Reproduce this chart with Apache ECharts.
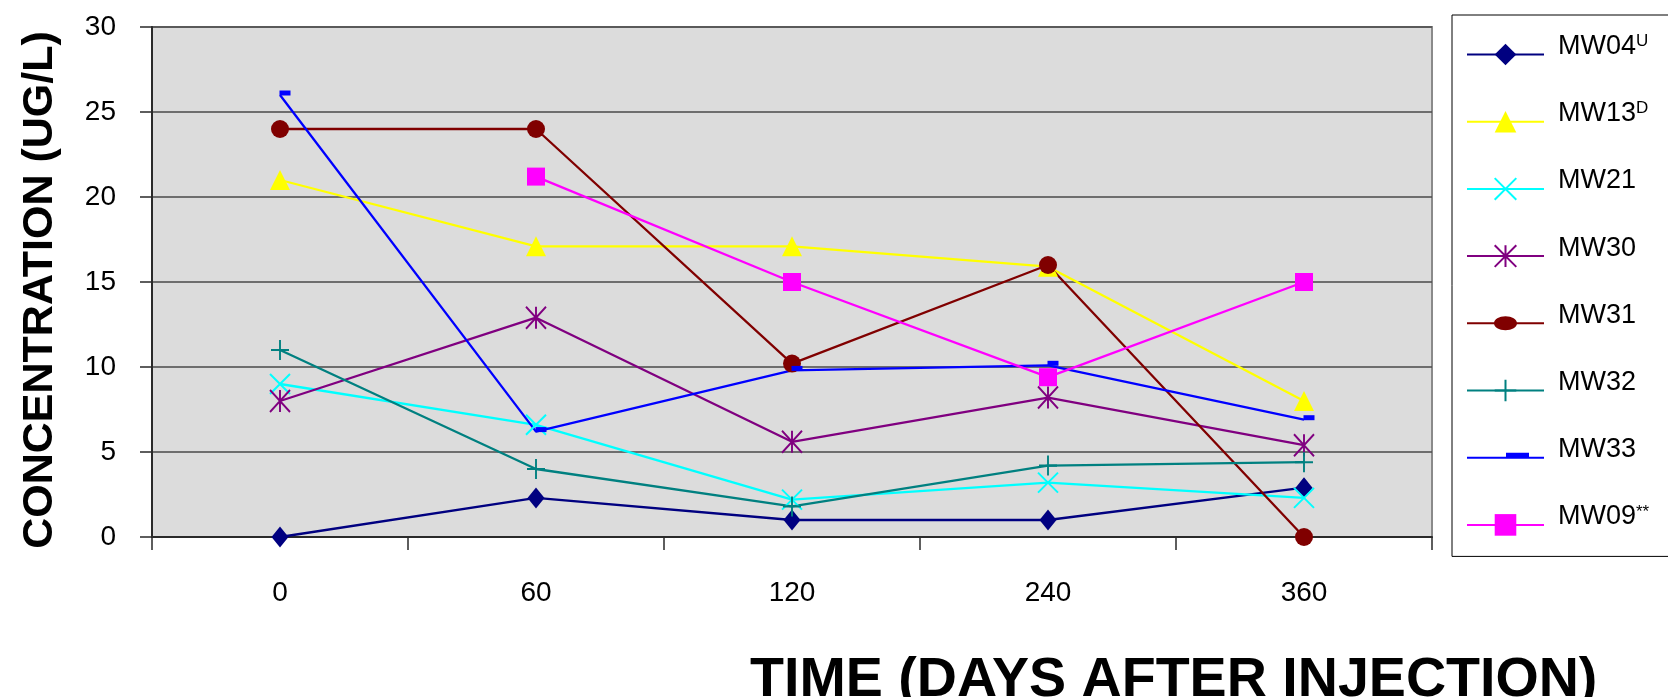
<!DOCTYPE html>
<html>
<head>
<meta charset="utf-8">
<title>Concentration vs time</title>
<script src="https://cdn.jsdelivr.net/npm/echarts@6/dist/echarts.min.js"></script>
<style>
  html, body { margin: 0; padding: 0; background: #fff; }
  #chart { width: 1668px; height: 697px; }
</style>
</head>
<body>
<div id="chart"></div>
<script>
const days = ['0', '60', '120', '240', '360']
const wells = ['MW04', 'MW13', 'MW21', 'MW30', 'MW31', 'MW32', 'MW33', 'MW09']
const wellSup = ['U', 'D', '', '', '', '', '', '**']

const mw04 = [0, 2.3, 1, 1, 2.9]
const mw13 = [21, 17.1, 17.1, 15.9, 8]
const mw21 = [9, 6.6, 2.2, 3.2, 2.3]
const mw30 = [8, 12.9, 5.6, 8.2, 5.4]
const mw31 = [24, 24, 10.2, 16, 0]
const mw32 = [11, 4, 1.8, 4.2, 4.4]
const mw33 = [26, 6.2, 9.8, 10.1, 6.9]
const mw09 = [null, 21.2, 15, 9.4, 15]
const values = [mw04, mw13, mw21, mw30, mw31, mw32, mw33, mw09]

// look of each well: colour, marker, marker size, stroke width for the open markers
const looks = [
  { color: '#000080', symbol: 'diamond', size: [17, 21], stroke: 0 },
  { color: '#ffff00', symbol: 'triangle', size: [20, 20], stroke: 0 },
  { color: '#00ffff', symbol: 'path://M0,0L10,10M10,0L0,10', size: [20, 20], stroke: 2 },
  { color: '#800080', symbol: 'path://M0,0L10,11M10,0L0,11M5,0L5,11', size: [20, 22], stroke: 2 },
  { color: '#800000', symbol: 'circle', size: [18, 18], stroke: 0 },
  { color: '#008080', symbol: 'path://M9,0L9,20M0,10L18,10', size: [18, 20], stroke: 2 },
  { color: '#0000ff', symbol: 'rect', size: [11, 5], stroke: 0, offset: [5, -2] },
  { color: '#ff00ff', symbol: 'rect', size: [18, 18], stroke: 0 }
]

// legend icons drawn by hand for the two wells whose key marker is not a plain symbol
// (box is 77 x 27, tiny corner specks keep the path at full size)
const corners = 'M0,0L0.1,0L0.1,0.1ZM76.9,26.9L77,26.9L77,27Z'
const keyLine = 'M0,12.5L77,12.5L77,14.5L0,14.5Z'
const customIcons = {
  MW31: 'path://' + corners + keyLine +
    'M27,13.5C27,9.63 32.15,6.5 38.5,6.5C44.85,6.5 50,9.63 50,13.5C50,17.37 44.85,20.5 38.5,20.5C32.15,20.5 27,17.37 27,13.5Z',
  MW33: 'path://' + corners + keyLine + 'M39,8.5L62,8.5L62,14.5L39,14.5Z'
}

const font = '"Liberation Sans", Arial, sans-serif'
const chart = echarts.init(document.getElementById('chart'))

const series = wells.map((name, i) => {
  const look = looks[i]
  return {
    name: name,
    type: 'line',
    data: values[i],
    symbol: look.symbol,
    symbolSize: look.size,
    symbolOffset: look.offset || [0, 0],
    showAllSymbol: true,
    color: look.color,
    lineStyle: { color: look.color, width: 2.3 },
    itemStyle: { color: look.color, borderColor: look.color, borderWidth: look.stroke, opacity: 1 },
    emphasis: { disabled: true },
    z: 3
  }
})

const legendData = wells.map((name) => {
  return customIcons[name] ? { name: name, icon: customIcons[name] } : { name: name }
})

const option = {
  animation: false,
  backgroundColor: '#ffffff',
  textStyle: { fontFamily: font },
  title: {
    text: 'TIME (DAYS AFTER INJECTION)',
    left: 750,
    top: 653,
    padding: 0,
    textStyle: { fontFamily: font, fontSize: 55.6, fontWeight: 'bold', color: '#000' }
  },
  graphic: [
    {
      type: 'text',
      x: 40,
      y: 290,
      rotation: Math.PI / 2,
      style: {
        text: 'CONCENTRATION (UG/L)',
        fontFamily: font,
        fontSize: 43,
        fontWeight: 'bold',
        fill: '#000',
        align: 'center',
        verticalAlign: 'middle'
      }
    }
  ],
  grid: {
    left: 152,
    top: 27,
    right: 236,
    bottom: 160,
    show: true,
    backgroundColor: '#dcdcdc',
    borderColor: '#8a8a8a',
    borderWidth: 2
  },
  legend: {
    orient: 'vertical',
    left: 1452,
    top: 15,
    padding: [18, 21, 10, 14],
    borderColor: '#000',
    borderWidth: 1,
    itemWidth: 77,
    itemHeight: 27,
    itemGap: 24.2,
    selectedMode: false,
    data: legendData,
    textStyle: {
      fontFamily: font,
      fontSize: 27,
      lineHeight: 27,
      color: '#000',
      padding: [0, 0, 16, 9],
      rich: {
        sup: { fontFamily: font, fontSize: 17, lineHeight: 17, verticalAlign: 'top', color: '#000' }
      }
    },
    formatter: (name) => {
      const sup = wellSup[wells.indexOf(name)]
      return sup ? name + '{sup|' + sup + '}' : name
    }
  },
  xAxis: {
    type: 'category',
    data: days,
    boundaryGap: true,
    axisLine: { show: true, lineStyle: { color: '#2a2a2a', width: 2 } },
    axisTick: { show: true, length: 13, lineStyle: { color: '#2a2a2a', width: 1.5 } },
    axisLabel: { fontFamily: font, fontSize: 28, color: '#000', margin: 42 },
    splitLine: { show: false }
  },
  yAxis: {
    type: 'value',
    min: 0,
    max: 30,
    interval: 5,
    axisLine: { show: true, lineStyle: { color: '#2a2a2a', width: 2 } },
    axisTick: { show: true, length: 12, lineStyle: { color: '#2a2a2a', width: 1.5 } },
    axisLabel: { fontFamily: font, fontSize: 28, color: '#000', margin: 36, padding: [0, 0, 10, 0] },
    splitLine: { show: true, lineStyle: { color: '#4a4a4a', width: 1.5 } }
  },
  series: series
}

chart.setOption(option)
window.addEventListener('resize', chart.resize)
</script>
</body>
</html>
